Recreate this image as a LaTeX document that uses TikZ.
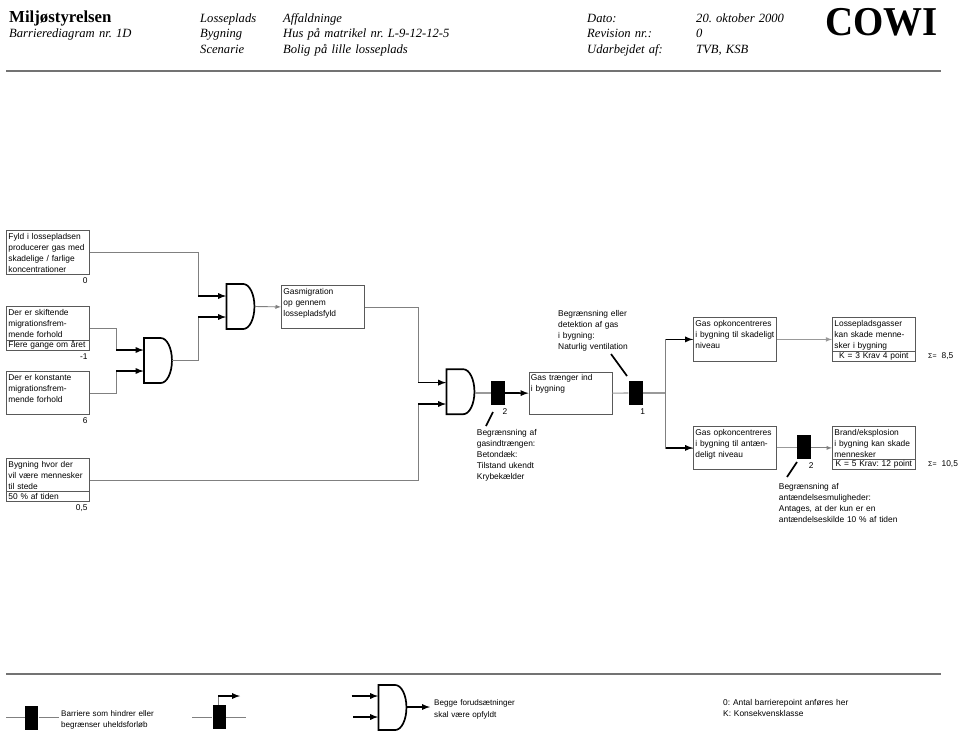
\documentclass[tikz,border=0pt]{standalone}
\usepackage{fontspec}
\setmainfont{Liberation Serif}
\newfontfamily\arialfont{Liberation Sans}
\usetikzlibrary{shapes,shapes.gates.logic.US,positioning,arrows}
\definecolor{wiregray}{gray}{0.5}
\definecolor{boxgray}{gray}{0.35}
\frenchspacing
\tikzset{
  sanstext/.style={font=\arialfont\fontsize{8.4}{11}\selectfont, inner sep=0pt, align=left},
  legtext/.style={font=\arialfont\fontsize{8.1}{11.5}\selectfont, inner sep=0pt, align=left, anchor=north west,
    text width=120pt, text height=7pt},
  blocktext/.style={sanstext, anchor=north west, text width=150pt, text height=7pt},
  evtbox/.style={sanstext, draw=boxgray, line width=.8pt, anchor=north west, text width=79pt,
    inner xsep=2pt, inner ysep=0pt, text height=9pt, text depth=#1},
  rowbox/.style={sanstext, draw=boxgray, line width=.8pt, anchor=south west, minimum width=83pt,
    minimum height=10.5pt, text width=79pt, inner xsep=2pt, inner ysep=0pt},
  barrier/.style={fill=black, minimum width=14pt, minimum height=24pt, inner sep=0pt},
  andgate/.style={and gate US, draw=black, line width=1.7pt, inner sep=0pt,
    logic gate input sep=21pt, xscale=.356, yscale=.714},
  wire/.style={draw=wiregray, line width=.8pt},
  pale/.style={draw=black!40, line width=1.1pt},
  heavy/.style={color=black, line width=1.7pt, ->},
  wirearrow/.style={draw=wiregray, line width=.9pt, ->},
  leader/.style={draw=black, line width=1.7pt},
  rulegray/.style={draw=black!55, line width=1.1pt},
  headtext/.style={font=\itshape\fontsize{12.6}{15.5}\selectfont, inner sep=0pt, align=left, anchor=north west,
    text width=200pt, text height=9pt}
}
\begin{document}
\begin{tikzpicture}[x=1pt,y=-1pt,>=latex]
\useasboundingbox (0,0) rectangle (965,736);
% header
\node[font=\bfseries\fontsize{16.8}{18}\selectfont, inner sep=0pt, anchor=west] (title) at (9,18) {Miljøstyrelsen};
\node[headtext] (diagno) at (9,28.5) {Barrierediagram nr. 1D};
\node[headtext] (hA) at (200,13) {Losseplads\\Bygning\\Scenarie};
\node[headtext] (hB) at (283,13) {Affaldninge\\Hus på matrikel nr. L-9-12-12-5\\Bolig på lille losseplads};
\node[headtext] (hC) at (587,13) {Dato:\\Revision nr.:\\Udarbejdet af:};
\node[headtext] (hD) at (696,13) {20. oktober 2000\\0\\TVB, KSB};
\node[font=\bfseries\fontsize{41}{41}\selectfont, inner sep=0pt, xscale=.95] (logo) at (881.5,22.5) {COWI};
\coordinate (r1a) at (6,71);
\coordinate (r1b) at (941,71);
\draw[rulegray] (r1a) -- (r1b);
% left boxes
\node[evtbox=35pt] (fyld) at (6,230) {Fyld i lossepladsen\\producerer gas med\\skadelige / farlige\\koncentrationer};
\node[evtbox=35pt] (skift) at (6,306) {Der er skiftende\\migrationsfrem-\\mende forhold};
\node[rowbox] (skiftrow) at (skift.south west) {Flere gange om året};
\node[evtbox=34pt] (konst) at (6,371) {Der er konstante\\migrationsfrem-\\mende forhold};
\node[evtbox=34pt] (bygn) at (6,458) {Bygning hvor der\\vil være mennesker\\til stede};
\node[rowbox] (bygnrow) at (bygn.south west) {50 \% af tiden};
\node[sanstext, below left=3pt and 2pt of fyld.south east] (p0) {0};
\node[sanstext, below left=3pt and 2pt of skift.south east] (p1) {-1};
\node[sanstext, below left=3pt and 2pt of konst.south east] (p6) {6};
\node[sanstext, below left=3pt and 2pt of bygn.south east] (p05) {0,5};
% gates
\node[andgate] (andB) at (157,360.5) {};
\node[andgate] (andA) at (239.5,306.5) {};
\node[andgate] (andC) at (459.5,391.7) {};
\coordinate (jA1) at (198,296);
\coordinate (jA2) at (198,317);
\coordinate (jB1) at (116,350);
\coordinate (jB2) at (116,371);
\coordinate (jC1) at (418,382.6);
\coordinate (jC2) at (418,404);
\draw[wire] (fyld.east) -| (jA1);
\draw[wire] (andB.east) -| (jA2);
\draw[wire] (skift.east) -| (jB1);
\draw[wire] (konst.east) -| (jB2);
\path (jA1) edge[heavy] (jA1 -| andA.west);
\path (jA2) edge[heavy] (jA2 -| andA.west);
\path (jB1) edge[heavy] (jB1 -| andB.west);
\path (jB2) edge[heavy] (jB2 -| andB.west);
% middle
\node[evtbox=34pt] (migr) at (281,285) {Gasmigration\\op gennem\\lossepladsfyld};
\draw[wirearrow] (andA.east) -- (migr.west);
\draw[wire] (migr.east) -| (jC1);
\draw[wire] (bygn.east) -| (jC2);
\path (jC1) edge[heavy] (jC1 -| andC.west);
\path (jC2) edge[heavy] (jC2 -| andC.west);
\node[barrier] (barA) at (497.7,393) {};
\node[evtbox=33.5pt] (trang) at (528.5,371.5) {Gas trænger ind\\i bygning};
\draw[pale] (andC.east |- barA.west) -- (barA.west);
\path (barA.east) edge[heavy] (trang.west);
\node[barrier] (barB) at (635.5,393) {};
\draw[pale] (trang.east) -- (barB.west);
\node[sanstext, below=3pt of barA.south east] (nA) {2};
\node[sanstext, below=3pt of barB.south east] (nB) {1};
\node[blocktext] (txtA) at (476.7,428.5) {Begrænsning af\\gasindtrængen:\\Betondæk:\\Tilstand ukendt\\Krybekælder};
\node[blocktext] (txtB) at (558,309) {Begrænsning eller\\detektion af gas\\i bygning:\\Naturlig ventilation};
\coordinate (lA1) at (486,426);
\coordinate (lA2) at (493,412);
\coordinate (lB1) at (611,354);
\coordinate (lB2) at (627,376);
\draw[leader] (lA1) -- (lA2);
\draw[leader] (lB1) -- (lB2);
% right
\node[evtbox=35pt] (skad) at (693,317) {Gas opkoncentreres\\i bygning til skadeligt\\niveau};
\node[evtbox=34pt] (ant) at (693,426) {Gas opkoncentreres\\i bygning til antæn-\\deligt niveau};
\node[evtbox=35pt] (losse) at (832,317) {Lossepladsgasser\\kan skade menne-\\sker i bygning};
\node[rowbox, align=center] (losserow) at (losse.south west) {K = 3 Krav 4 point};
\node[evtbox=34pt] (brand) at (832,426) {Brand/eksplosion\\i bygning kan skade\\mennesker};
\node[rowbox, align=center] (brandrow) at (brand.south west) {K = 5 Krav: 12 point};
\coordinate (jD) at (665.7,393);
\draw[pale] (barB.east) -- (jD);
\draw[wire] (jD) |- (skad.west);
\draw[wire] (jD) |- (ant.west);
\coordinate (jD1) at (skad.west -| jD);
\coordinate (jD2) at (ant.west -| jD);
\path (jD1) edge[heavy] (skad.west);
\path (jD2) edge[heavy] (ant.west);
\draw[pale, ->] (skad.east) -- (losse.west);
\node[barrier] (barC) at (804,447) {};
\draw[pale] (ant.east) -- (barC.west |- ant.east);
\draw[wirearrow] (barC.east |- brand.west) -- (brand.west);
\node[sanstext, below=3pt of barC.south east] (nC) {2};
\coordinate (lC1) at (787,477);
\coordinate (lC2) at (797,462);
\draw[leader] (lC1) -- (lC2);
\node[blocktext] (txtC) at (778.7,482) {Begrænsning af\\antændelsesmuligheder:\\Antages, at der kun er en\\antændelseskilde 10 \% af tiden};
\node[sanstext, anchor=west] (sumA) at (928,356) {{\fontsize{7}{7}\selectfont Σ=}\hspace{5pt}8,5};
\node[sanstext, anchor=west] (sumB) at (928,464) {{\fontsize{7}{7}\selectfont Σ=}\hspace{5pt}10,5};
% legend
\coordinate (r2a) at (6,674);
\coordinate (r2b) at (941,674);
\draw[rulegray] (r2a) -- (r2b);
\node[barrier, minimum width=13pt] (legA) at (31.8,717.5) {};
\coordinate (legA1) at (6,717);
\coordinate (legA2) at (59,717);
\draw[wire] (legA1) -- (legA.west |- legA1);
\draw[wire] (legA.east |- legA2) -- (legA2);
\node[legtext] (legAtxt) at (61,709) {Barriere som hindrer eller\\begrænser uheldsforløb};
\node[barrier, minimum width=13pt] (legB) at (219,717) {};
\coordinate (legB1) at (192,717);
\coordinate (legB2) at (246,717);
\coordinate (legB3) at (218.3,696);
\coordinate (legB4) at (240,696);
\draw[wire] (legB1) -- (legB.west |- legB1);
\draw[wire] (legB.east |- legB2) -- (legB2);
\draw[wire] (legB.north -| legB3) -- (legB3);
\path (legB3) edge[heavy] (legB4);
\node[andgate] (legC) at (391.5,707.5) {};
\coordinate (legC1) at (351.7,696);
\coordinate (legC2) at (353,717);
\coordinate (legC3) at (430,707);
\path (legC1) edge[heavy] (legC1 -| legC.west);
\path (legC2) edge[heavy] (legC2 -| legC.west);
\path (legC.east |- legC3) edge[heavy] (legC3);
\node[legtext] (legCtxt) at (434,698.7) {Begge forudsætninger\\skal være opfyldt};
\node[blocktext] (legDtxt) at (723,698.7) {0: Antal barrierepoint anføres her\\K: Konsekvensklasse};
\end{tikzpicture}
\end{document}
